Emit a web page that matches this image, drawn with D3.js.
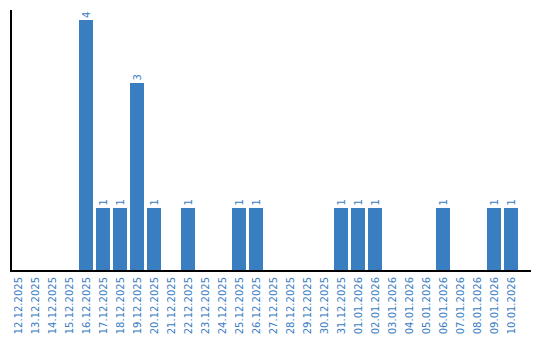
<!DOCTYPE html>
<html>
<head>
  <meta charset="utf-8">
  <script src="https://cdn.jsdelivr.net/npm/d3@7"></script>
  <style>
    body { margin: 0; background: #fff; }
    text { font-family: "DejaVu Sans", Verdana, sans-serif; font-size: 10px; fill: #3a7dc2; }
    .axis path, .axis line { stroke: #000; stroke-width: 2; shape-rendering: crispEdges; }
    .bar { fill: #3a7ec2; shape-rendering: crispEdges; }
  </style>
</head>
<body>
<script>
  var dates = ["12.12.2025", "13.12.2025", "14.12.2025", "15.12.2025", "16.12.2025",
    "17.12.2025", "18.12.2025", "19.12.2025", "20.12.2025", "21.12.2025",
    "22.12.2025", "23.12.2025", "24.12.2025", "25.12.2025", "26.12.2025",
    "27.12.2025", "28.12.2025", "29.12.2025", "30.12.2025", "31.12.2025",
    "01.01.2026", "02.01.2026", "03.01.2026", "04.01.2026", "05.01.2026",
    "06.01.2026", "07.01.2026", "08.01.2026", "09.01.2026", "10.01.2026"];
  var counts = [0, 0, 0, 0, 4, 1, 1, 3, 1, 0,
    1, 0, 0, 1, 1, 0, 0, 0, 0, 1,
    1, 1, 0, 0, 0, 1, 0, 0, 1, 1];

  var width = 540, height = 340;
  var plotLeft = 10, plotTop = 10, plotBottom = 270, plotRight = 531;

  var svg = d3.select("body").append("svg")
    .attr("width", width)
    .attr("height", height);

  var x = d3.scaleBand()
    .domain(dates)
    .range([plotLeft + 1, plotLeft + 1 + 30 * 17 - 3])
    .paddingInner(3 / 17)
    .paddingOuter(0);

  var y = d3.scaleLinear()
    .domain([0, 4.16])
    .range([plotBottom, plotTop]);

  var data = dates.map(function(d, i) { return { date: d, value: counts[i] }; });
  var nonZero = data.filter(function(d) { return d.value > 0; });

  svg.append("g").selectAll("rect")
    .data(nonZero)
    .enter().append("rect")
    .attr("class", "bar")
    .attr("x", function(d) { return x(d.date); })
    .attr("width", x.bandwidth())
    .attr("y", function(d) { return y(d.value); })
    .attr("height", function(d) { return plotBottom - y(d.value); });

  // value labels, rotated above each bar
  svg.append("g").selectAll("text")
    .data(nonZero)
    .enter().append("text")
    .attr("transform", function(d) {
      return "translate(" + (x(d.date) + x.bandwidth() / 2) + "," + (y(d.value) - 2) + ") rotate(-90)";
    })
    .attr("dy", "0.35em")
    .attr("text-anchor", "start")
    .text(function(d) { return d.value; });

  // x axis
  var xAxis = svg.append("g")
    .attr("class", "axis")
    .attr("transform", "translate(0," + plotBottom + ")")
    .call(d3.axisBottom(x).tickSize(0).tickSizeOuter(0));
  xAxis.select(".domain").remove();
  xAxis.append("line")
    .attr("x1", plotLeft).attr("x2", plotRight)
    .attr("y1", 1).attr("y2", 1);
  xAxis.selectAll(".tick text")
    .attr("transform", "rotate(-90)")
    .attr("x", -7)
    .attr("y", 0)
    .attr("dy", "0.35em")
    .attr("text-anchor", "end")
    .style("fill", "#3a7dc2")
    .style("font-size", "10px")
    .style("font-family", "DejaVu Sans, Verdana, sans-serif");

  // y axis line, no ticks
  svg.append("g")
    .attr("class", "axis")
    .append("line")
    .attr("x1", plotLeft + 1).attr("x2", plotLeft + 1)
    .attr("y1", plotTop).attr("y2", plotBottom + 2);
</script>
</body>
</html>
